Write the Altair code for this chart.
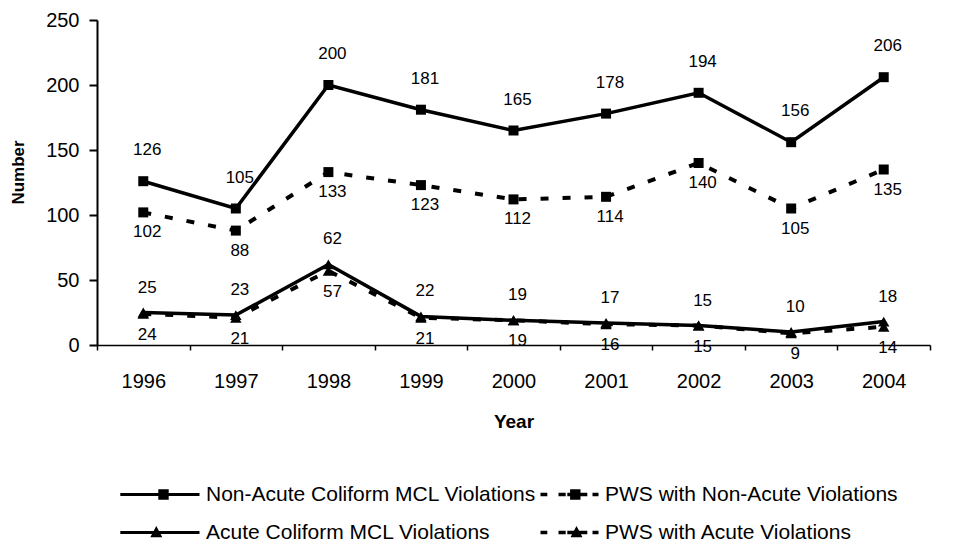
import altair as alt
import pandas as pd

years = ["1996", "1997", "1998", "1999", "2000", "2001", "2002", "2003", "2004"]
non_acute = [126, 105, 200, 181, 165, 178, 194, 156, 206]
pws_non_acute = [102, 88, 133, 123, 112, 114, 140, 105, 135]
acute = [25, 23, 62, 22, 19, 17, 15, 10, 18]
pws_acute = [24, 21, 57, 21, 19, 16, 15, 9, 14]

names = [
    "Non-Acute Coliform MCL Violations",
    "PWS with Non-Acute Violations",
    "Acute Coliform MCL Violations",
    "PWS with Acute Violations",
]
y_ticks = [0, 50, 100, 150, 200, 250]

FONT = "'Liberation Sans', Arial, sans-serif"

rows = []
for name, vals in zip(names, [non_acute, pws_non_acute, acute, pws_acute]):
    for yr, v in zip(years, vals):
        rows.append({"year": yr, "value": v, "series": name})
df = pd.DataFrame(rows)

X = alt.X("year:O", title="Year", bandPosition=0.5,
          scale=alt.Scale(type="band", domain=years, paddingInner=0, paddingOuter=0),
          axis=alt.Axis(labelAngle=0, tickBand="extent", tickSize=5, tickWidth=1.5,
                        domainWidth=1.5, labelPadding=21, labelFontSize=20, labelFont=FONT,
                        titleFont=FONT, titleFontSize=19, titleFontWeight="bold",
                        titleBaseline="middle", titleY=76))
Y = alt.Y("value:Q", title="Number",
          scale=alt.Scale(domain=[0, 250], nice=False, zero=True),
          axis=alt.Axis(values=y_ticks, grid=False, tickSize=8, tickWidth=2, domainWidth=2,
                        labelPadding=10, labelFontSize=20, labelFont=FONT,
                        titleFont=FONT, titleFontSize=17, titleFontWeight="bold",
                        titleX=-70, titleY=152))

base = alt.Chart(df)

def sel(name):
    return alt.datum.series == name

solid_lines = base.transform_filter(
    alt.FieldOneOfPredicate(field="series", oneOf=[names[0], names[2]])
).mark_line(color="black", strokeWidth=3.5).encode(x=X, y=Y, detail="series:N")

dash_lines = base.transform_filter(
    alt.FieldOneOfPredicate(field="series", oneOf=[names[1], names[3]])
).mark_line(color="black", strokeWidth=4, strokeDash=[8, 14]).encode(x=X, y=Y, detail="series:N")

squares = base.transform_filter(
    alt.FieldOneOfPredicate(field="series", oneOf=[names[0], names[1]])
).mark_point(shape="square", filled=True, color="black", size=100, opacity=1).encode(x=X, y=Y)

triangles = base.transform_filter(
    alt.FieldOneOfPredicate(field="series", oneOf=[names[2], names[3]])
).mark_point(shape="triangle-up", filled=True, color="black", size=130, opacity=1).encode(x=X, y=Y)

def labels(name, dy):
    return base.transform_filter(sel(name)).mark_text(
        font=FONT, fontSize=17, color="black", dy=dy, dx=4
    ).encode(x=X, y=Y, text="value:Q")

lab = [labels(names[0], -31), labels(names[1], 20), labels(names[2], -25), labels(names[3], 21)]

# legend symbols: line segments drawn as thin filled bars, plus the marker
p_sq_solid = "M-8.9,-0.19H1V0.19H-8.9ZM-4.15,-0.65H-2.85V0.65H-4.15Z"
p_tri_solid = "M-8.9,-0.19H1V0.19H-8.9ZM-5.15,0.6L-4.4,-0.8L-3.65,0.6Z"
dashes = ("M-6.25,-0.22H-5.4V0.22H-6.25Z"
          "M-4,-0.22H-3.1V0.22H-4Z"
          "M-2.9,-0.22H-0.4V0.22H-2.9Z"
          "M0.25,-0.22H1V0.22H0.25Z")
p_sq_dash = dashes + "M-2.55,-0.65H-1.25V0.65H-2.55Z"
p_tri_dash = dashes + "M-2.5,0.6L-1.75,-0.8L-1,0.6Z"

def legend_layer(domain, rng, lx, ly):
    return base.transform_filter("false").mark_point(
        filled=True, color="black", opacity=1
    ).encode(
        x=X, y=Y,
        shape=alt.Shape("series:N", scale=alt.Scale(domain=domain, range=rng),
                        legend=alt.Legend(title=None, orient="none", legendX=lx, legendY=ly,
                                          symbolSize=256, symbolFillColor="black",
                                          symbolStrokeWidth=0, symbolOpacity=1,
                                          labelFont=FONT, labelFontSize=21, labelColor="black",
                                          labelOffset=4, rowPadding=16, labelLimit=600)),
    )

leg1 = legend_layer([names[0], names[2]], [p_sq_solid, p_tri_solid], 84, 464)
leg2 = legend_layer([names[1], names[3]], [p_sq_dash, p_tri_dash], 483, 464)

chart = alt.layer(
    dash_lines, solid_lines, squares, triangles, *lab, leg1, leg2
).resolve_scale(shape="independent").properties(
    width=833, height=325,
    autosize=alt.AutoSizeParams(type="none"),
    padding={"left": 89, "top": 12, "right": 30, "bottom": 210},
).configure_view(stroke=None).configure_axis(
    domainColor="black", tickColor="black", labelColor="black", titleColor="black"
)

chart.save("out.html", embed_options={"renderer": "svg", "actions": False})
